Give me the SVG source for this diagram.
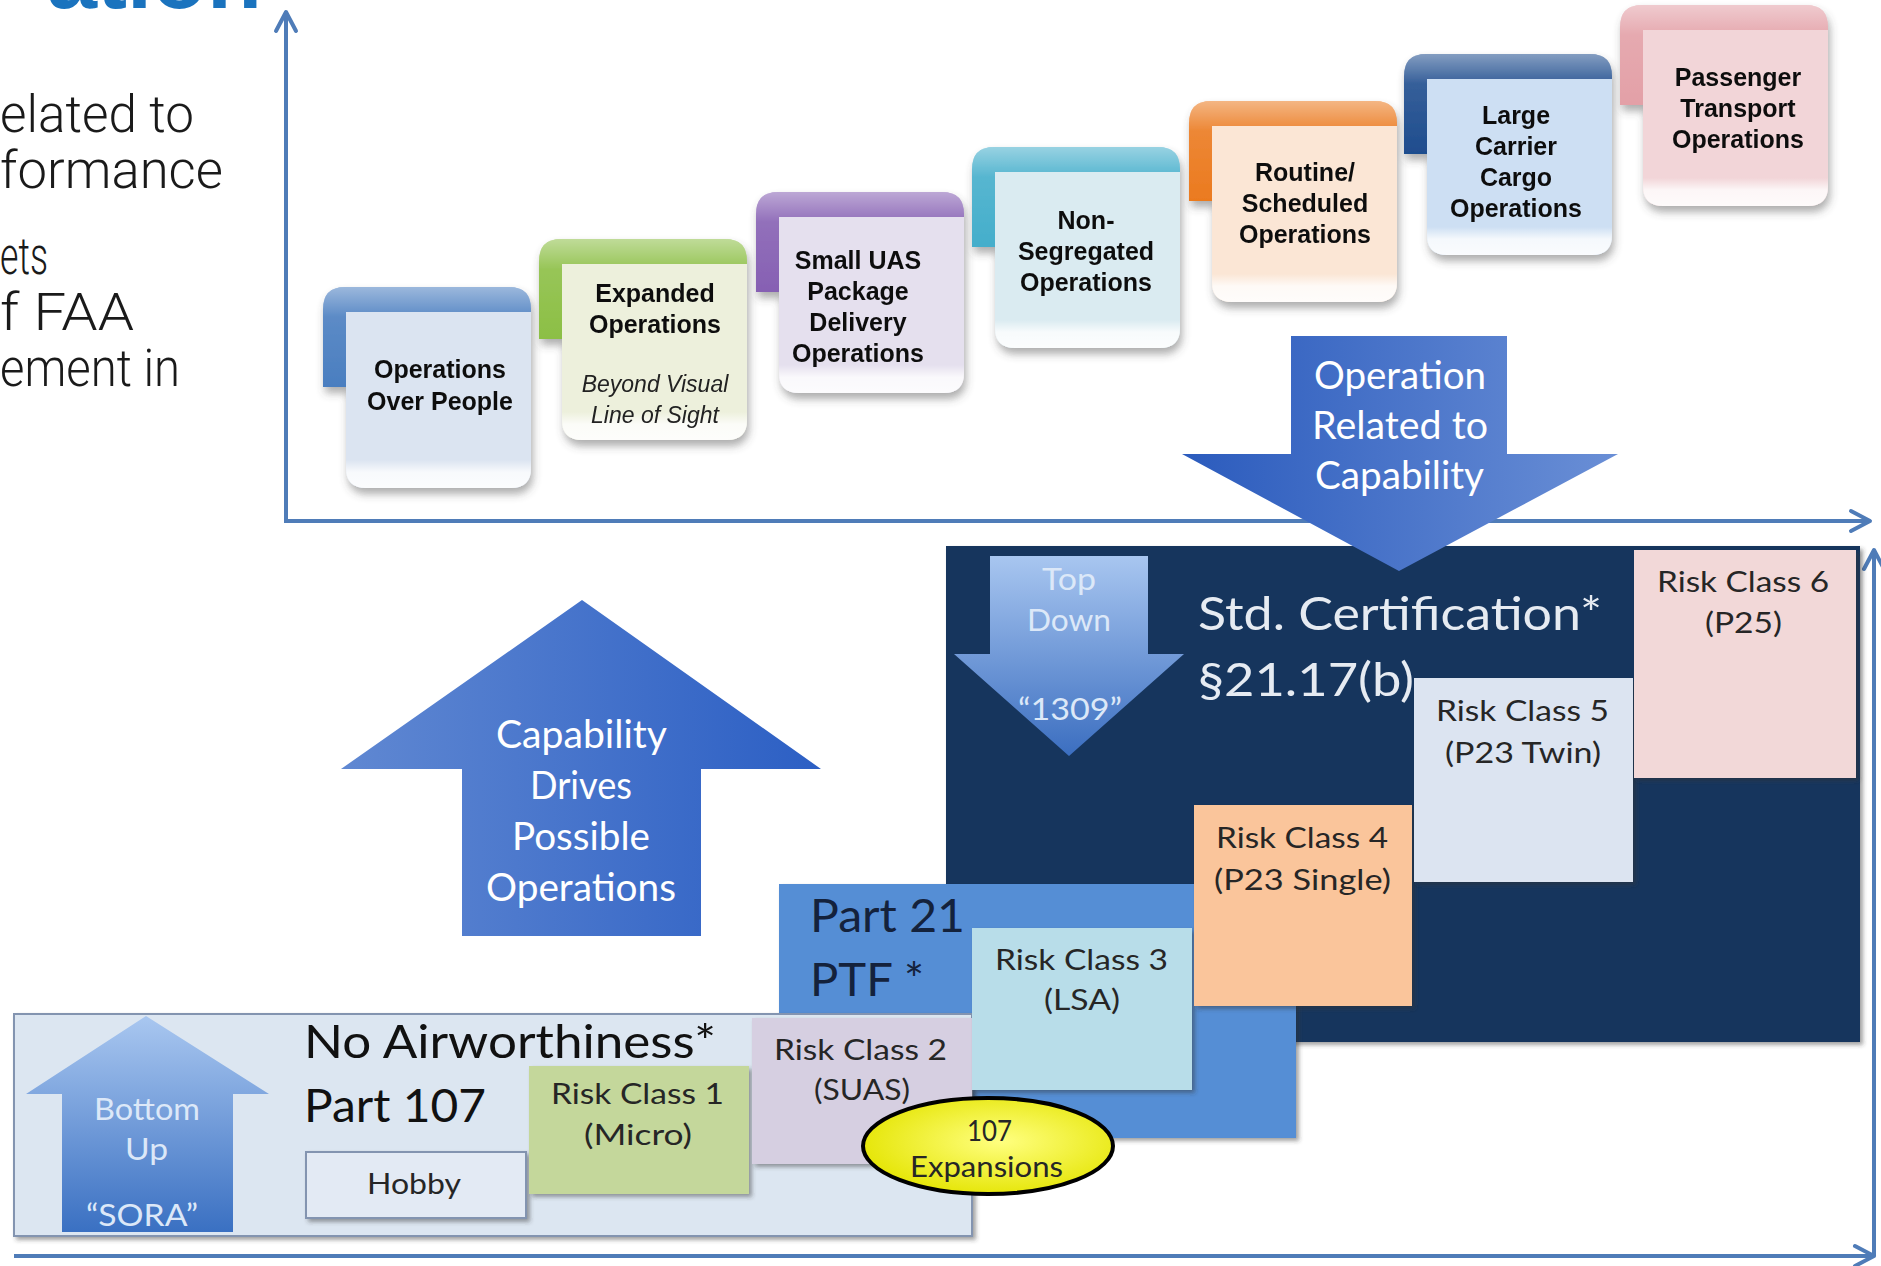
<svg xmlns="http://www.w3.org/2000/svg" width="1881" height="1266" viewBox="0 0 1881 1266">
<defs>
<style>
.ct{font-family:"Liberation Sans",Arial,sans-serif;font-weight:bold;font-size:25px;fill:#111;text-anchor:middle}
.ci{font-family:"Liberation Sans",Arial,sans-serif;font-style:italic;font-size:23px;fill:#222;text-anchor:middle}
.big{font-family:Lato,"Open Sans",sans-serif;font-size:38px;fill:#fff}
.rc{font-family:Lato,"Open Sans",sans-serif;font-size:28px;fill:#262626}
.hd{font-family:Lato,"Open Sans",sans-serif;font-size:46px}
.ar{font-family:Lato,"Open Sans",sans-serif;font-size:30px;fill:#dce8f8}
.side{font-family:Roboto,"Liberation Sans",sans-serif;font-weight:300;font-size:51px;fill:#1a1a1a}
.axis{stroke:#4f7cb8;stroke-width:4;fill:none}
.card{filter:url(#csh)}
.box{filter:url(#bsh)}
.gloss{fill:url(#gloss)}
.tg{fill:url(#tabGloss)}
</style>
<filter id="csh" x="-10%" y="-10%" width="130%" height="130%">
<feDropShadow dx="2" dy="6" stdDeviation="4" flood-color="#4a4a4a" flood-opacity="0.45"/>
</filter>
<filter id="bsh" x="-10%" y="-10%" width="130%" height="130%">
<feDropShadow dx="3" dy="3" stdDeviation="2" flood-color="#333" flood-opacity="0.45"/>
</filter>
<linearGradient id="gloss" x1="0" y1="0" x2="0" y2="1">
<stop offset="0" stop-color="#fff" stop-opacity="0"/>
<stop offset="0.84" stop-color="#fff" stop-opacity="0"/>
<stop offset="0.91" stop-color="#fff" stop-opacity="0.8"/>
<stop offset="1" stop-color="#fff" stop-opacity="0.9"/>
</linearGradient>
<linearGradient id="tabGloss" x1="0" y1="0" x2="0" y2="1">
<stop offset="0" stop-color="#fff" stop-opacity="0.45"/>
<stop offset="0.3" stop-color="#fff" stop-opacity="0.1"/>
<stop offset="1" stop-color="#fff" stop-opacity="0"/>
</linearGradient>
<linearGradient id="gDown" x1="0" y1="0" x2="1" y2="0">
<stop offset="0" stop-color="#2b5bbd"/>
<stop offset="1" stop-color="#6a8fd6"/>
</linearGradient>
<linearGradient id="gUp" x1="0" y1="0" x2="1" y2="0">
<stop offset="0" stop-color="#6088d2"/>
<stop offset="1" stop-color="#2c5fc4"/>
</linearGradient>
<linearGradient id="gTD" x1="0" y1="0" x2="0" y2="1">
<stop offset="0" stop-color="#a8c6f0"/>
<stop offset="1" stop-color="#3b6ec0"/>
</linearGradient>
<linearGradient id="gBU" x1="0" y1="0" x2="0" y2="1">
<stop offset="0" stop-color="#a9c7f0"/>
<stop offset="1" stop-color="#3a70c2"/>
</linearGradient>
<radialGradient id="gEll" cx="0.55" cy="0.45" r="0.6">
<stop offset="0" stop-color="#ffff80"/>
<stop offset="1" stop-color="#e4e400"/>
</radialGradient>
<marker id="ah" viewBox="0 0 26 26" refX="22" refY="13" markerWidth="26" markerHeight="26" markerUnits="userSpaceOnUse" orient="auto">
<path d="M3,3 L22,13 L3,23" fill="none" stroke="#4f7cb8" stroke-width="4" stroke-linejoin="round" stroke-linecap="round"/>
</marker>
</defs>

<rect x="0" y="0" width="1881" height="1266" fill="#fff"/>

<g id="slide-fragments">
<text x="262" y="8" text-anchor="end" style="font-family:'Liberation Sans',Arial,sans-serif;font-weight:bold;font-size:90px;fill:#1a73be">ation</text>
<text class="side" x="0" y="132" textLength="194" lengthAdjust="spacingAndGlyphs">elated to</text>
<text class="side" x="0" y="188" textLength="223" lengthAdjust="spacingAndGlyphs">formance</text>
<text class="side" x="0" y="274" textLength="48" lengthAdjust="spacingAndGlyphs">ets</text>
<text class="side" x="0" y="330" textLength="134" lengthAdjust="spacingAndGlyphs">f FAA</text>
<text class="side" x="0" y="386" textLength="180" lengthAdjust="spacingAndGlyphs">ement in</text>
</g>

<g id="connectors">
<line class="axis" x1="286" y1="521" x2="286" y2="12" marker-end="url(#ah)"/>
<line class="axis" x1="284" y1="521" x2="1870" y2="521" marker-end="url(#ah)"/>
<line class="axis" x1="14" y1="1256" x2="1874" y2="1256" marker-end="url(#ah)"/>
<line class="axis" x1="1874" y1="1256" x2="1874" y2="550" marker-end="url(#ah)"/>
</g>

<g id="card-ops-over-people" class="card">
<path d="M323,387 V309 Q323,287 345,287 H509 Q531,287 531,309 V387 Z" fill="#4a7ec0"/>
<path class="tg" d="M323,387 V309 Q323,287 345,287 H509 Q531,287 531,309 V387 Z"/>
<path d="M346,312 H531 V468 Q531,488 511,488 H366 Q346,488 346,468 Z" fill="#dbe4f1"/>
<path class="gloss" d="M346,312 H531 V468 Q531,488 511,488 H366 Q346,488 346,468 Z"/>
<text class="ct" x="440" y="378">Operations</text>
<text class="ct" x="440" y="410">Over People</text>
</g>

<g id="card-expanded-ops" class="card">
<path d="M539,339 V261 Q539,239 561,239 H725 Q747,239 747,261 V339 Z" fill="#8cbf45"/>
<path class="tg" d="M539,339 V261 Q539,239 561,239 H725 Q747,239 747,261 V339 Z"/>
<path d="M562,264 H747 V420 Q747,440 727,440 H582 Q562,440 562,420 Z" fill="#edf0dc"/>
<path class="gloss" d="M562,264 H747 V420 Q747,440 727,440 H582 Q562,440 562,420 Z"/>
<text class="ct" x="655" y="302">Expanded</text>
<text class="ct" x="655" y="333">Operations</text>
<text class="ci" x="655" y="392">Beyond Visual</text>
<text class="ci" x="655" y="423">Line of Sight</text>
</g>

<g id="card-small-uas" class="card">
<path d="M756,292 V214 Q756,192 778,192 H942 Q964,192 964,214 V292 Z" fill="#8660b3"/>
<path class="tg" d="M756,292 V214 Q756,192 778,192 H942 Q964,192 964,214 V292 Z"/>
<path d="M779,217 H964 V373 Q964,393 944,393 H799 Q779,393 779,373 Z" fill="#e5e0ee"/>
<path class="gloss" d="M779,217 H964 V373 Q964,393 944,393 H799 Q779,393 779,373 Z"/>
<text class="ct" x="858" y="269">Small UAS</text>
<text class="ct" x="858" y="300">Package</text>
<text class="ct" x="858" y="331">Delivery</text>
<text class="ct" x="858" y="362">Operations</text>
</g>

<g id="card-non-segregated" class="card">
<path d="M972,247 V169 Q972,147 994,147 H1158 Q1180,147 1180,169 V247 Z" fill="#44aecb"/>
<path class="tg" d="M972,247 V169 Q972,147 994,147 H1158 Q1180,147 1180,169 V247 Z"/>
<path d="M995,172 H1180 V328 Q1180,348 1160,348 H1015 Q995,348 995,328 Z" fill="#daebf1"/>
<path class="gloss" d="M995,172 H1180 V328 Q1180,348 1160,348 H1015 Q995,348 995,328 Z"/>
<text class="ct" x="1086" y="229">Non-</text>
<text class="ct" x="1086" y="260">Segregated</text>
<text class="ct" x="1086" y="291">Operations</text>
</g>

<g id="card-routine" class="card">
<path d="M1189,201 V123 Q1189,101 1211,101 H1375 Q1397,101 1397,123 V201 Z" fill="#eb7a1f"/>
<path class="tg" d="M1189,201 V123 Q1189,101 1211,101 H1375 Q1397,101 1397,123 V201 Z"/>
<path d="M1212,126 H1397 V282 Q1397,302 1377,302 H1232 Q1212,302 1212,282 Z" fill="#fbe6d5"/>
<path class="gloss" d="M1212,126 H1397 V282 Q1397,302 1377,302 H1232 Q1212,302 1212,282 Z"/>
<text class="ct" x="1305" y="181">Routine/</text>
<text class="ct" x="1305" y="212">Scheduled</text>
<text class="ct" x="1305" y="243">Operations</text>
</g>

<g id="card-large-cargo" class="card">
<path d="M1404,154 V76 Q1404,54 1426,54 H1590 Q1612,54 1612,76 V154 Z" fill="#1f4d8e"/>
<path class="tg" d="M1404,154 V76 Q1404,54 1426,54 H1590 Q1612,54 1612,76 V154 Z"/>
<path d="M1427,79 H1612 V235 Q1612,255 1592,255 H1447 Q1427,255 1427,235 Z" fill="#cddff3"/>
<path class="gloss" d="M1427,79 H1612 V235 Q1612,255 1592,255 H1447 Q1427,255 1427,235 Z"/>
<text class="ct" x="1516" y="124">Large</text>
<text class="ct" x="1516" y="155">Carrier</text>
<text class="ct" x="1516" y="186">Cargo</text>
<text class="ct" x="1516" y="217">Operations</text>
</g>

<g id="card-passenger" class="card">
<path d="M1620,105 V27 Q1620,5 1642,5 H1806 Q1828,5 1828,27 V105 Z" fill="#e3a0a7"/>
<path class="tg" d="M1620,105 V27 Q1620,5 1642,5 H1806 Q1828,5 1828,27 V105 Z"/>
<path d="M1643,30 H1828 V186 Q1828,206 1808,206 H1663 Q1643,206 1643,186 Z" fill="#f2d5d8"/>
<path class="gloss" d="M1643,30 H1828 V186 Q1828,206 1808,206 H1663 Q1643,206 1643,186 Z"/>
<text class="ct" x="1738" y="86">Passenger</text>
<text class="ct" x="1738" y="117">Transport</text>
<text class="ct" x="1738" y="148">Operations</text>
</g>

<g id="std-certification">
<rect class="box" x="946" y="546" width="914" height="496" fill="#17365d"/>
<text class="hd" x="1198" y="630" textLength="404" lengthAdjust="spacingAndGlyphs" fill="#e6ebf2">Std. Certification*</text>
<text class="hd" x="1198" y="696" textLength="216" lengthAdjust="spacingAndGlyphs" fill="#e6ebf2">§21.17(b)</text>
</g>

<g id="part21-ptf">
<rect class="box" x="779" y="884" width="517" height="254" fill="#558ed5"/>
<text class="hd" x="810" y="932" textLength="155" lengthAdjust="spacingAndGlyphs" fill="#14223c">Part 21</text>
<text class="hd" x="810" y="996" textLength="114" lengthAdjust="spacingAndGlyphs" fill="#14223c">PTF *</text>
</g>

<g id="no-airworthiness">
<rect class="box" x="14" y="1014" width="958" height="222" fill="#dce6f1" stroke="#8394b0" stroke-width="2"/>
<text class="hd" x="304" y="1058" textLength="412" lengthAdjust="spacingAndGlyphs" fill="#111">No Airworthiness*</text>
<text class="hd" x="304" y="1122" textLength="182" lengthAdjust="spacingAndGlyphs" fill="#111">Part 107</text>
</g>

<g id="hobby">
<rect class="box" x="306" y="1152" width="220" height="66" fill="#e3eaf4" stroke="#8394b0" stroke-width="2"/>
<text class="rc" x="367" y="1194" textLength="94" lengthAdjust="spacingAndGlyphs">Hobby</text>
</g>

<g id="risk-class-1">
<rect class="box" x="529" y="1066" width="220" height="128" fill="#c4d79b"/>
<text class="rc" x="551" y="1104" textLength="173" lengthAdjust="spacingAndGlyphs">Risk Class 1</text>
<text class="rc" x="584" y="1145" textLength="108" lengthAdjust="spacingAndGlyphs">(Micro)</text>
</g>

<g id="risk-class-2">
<rect class="box" x="752" y="1018" width="220" height="146" fill="#d6cfe1"/>
<text class="rc" x="774" y="1060" textLength="173" lengthAdjust="spacingAndGlyphs">Risk Class 2</text>
<text class="rc" x="814" y="1100" textLength="96" lengthAdjust="spacingAndGlyphs">(SUAS)</text>
</g>

<g id="risk-class-3">
<rect class="box" x="972" y="928" width="220" height="162" fill="#b8dde9"/>
<text class="rc" x="995" y="970" textLength="173" lengthAdjust="spacingAndGlyphs">Risk Class 3</text>
<text class="rc" x="1044" y="1010" textLength="76" lengthAdjust="spacingAndGlyphs">(LSA)</text>
</g>

<g id="risk-class-4">
<rect class="box" x="1194" y="805" width="218" height="201" fill="#fac59b"/>
<text class="rc" x="1216" y="848" textLength="172" lengthAdjust="spacingAndGlyphs">Risk Class 4</text>
<text class="rc" x="1214" y="890" textLength="177" lengthAdjust="spacingAndGlyphs">(P23 Single)</text>
</g>

<g id="risk-class-5">
<rect class="box" x="1414" y="678" width="219" height="204" fill="#dce4f1"/>
<text class="rc" x="1436" y="721" textLength="173" lengthAdjust="spacingAndGlyphs">Risk Class 5</text>
<text class="rc" x="1445" y="763" textLength="156" lengthAdjust="spacingAndGlyphs">(P23 Twin)</text>
</g>

<g id="risk-class-6">
<rect class="box" x="1634" y="550" width="222" height="228" fill="#f2d8d8"/>
<text class="rc" x="1657" y="592" textLength="172" lengthAdjust="spacingAndGlyphs">Risk Class 6</text>
<text class="rc" x="1705" y="633" textLength="77" lengthAdjust="spacingAndGlyphs">(P25)</text>
</g>

<g id="top-down-arrow">
<path d="M990,556 H1148 V654 H1184 L1069,756 L954,654 H990 Z" fill="url(#gTD)"/>
<text class="ar" x="1042" y="590" textLength="54" lengthAdjust="spacingAndGlyphs">Top</text>
<text class="ar" x="1027" y="631" textLength="84" lengthAdjust="spacingAndGlyphs">Down</text>
<text class="ar" x="1018" y="720" textLength="104" lengthAdjust="spacingAndGlyphs">“1309”</text>
</g>

<g id="bottom-up-arrow">
<path d="M146,1016 L269,1094 H233 V1232 H62 V1094 H26 Z" fill="url(#gBU)"/>
<text class="ar" x="94" y="1120" textLength="106" lengthAdjust="spacingAndGlyphs">Bottom</text>
<text class="ar" x="125" y="1160" textLength="43" lengthAdjust="spacingAndGlyphs">Up</text>
<text class="ar" x="86" y="1226" textLength="112" lengthAdjust="spacingAndGlyphs">“SORA”</text>
</g>

<g id="expansions-107">
<ellipse cx="988" cy="1146" rx="125" ry="48" fill="url(#gEll)" stroke="#000" stroke-width="4"/>
<text class="rc" x="967" y="1141" textLength="45" lengthAdjust="spacingAndGlyphs">107</text>
<text class="rc" x="910" y="1177" textLength="153" lengthAdjust="spacingAndGlyphs">Expansions</text>
</g>

<g id="operation-related-arrow">
<path d="M1291,336 H1507 V454 H1618 L1399,571 L1182,454 H1291 Z" fill="url(#gDown)"/>
<text class="big" x="1314" y="389" textLength="172" lengthAdjust="spacingAndGlyphs">Operation</text>
<text class="big" x="1312" y="439" textLength="176" lengthAdjust="spacingAndGlyphs">Related to</text>
<text class="big" x="1315" y="489" textLength="169" lengthAdjust="spacingAndGlyphs">Capability</text>
</g>

<g id="capability-drives-arrow">
<path d="M582,600 L821,769 H701 V936 H462 V769 H341 Z" fill="url(#gUp)"/>
<text class="big" x="496" y="748" textLength="171" lengthAdjust="spacingAndGlyphs">Capability</text>
<text class="big" x="530" y="799" textLength="102" lengthAdjust="spacingAndGlyphs">Drives</text>
<text class="big" x="512" y="850" textLength="138" lengthAdjust="spacingAndGlyphs">Possible</text>
<text class="big" x="486" y="901" textLength="190" lengthAdjust="spacingAndGlyphs">Operations</text>
</g>
</svg>
